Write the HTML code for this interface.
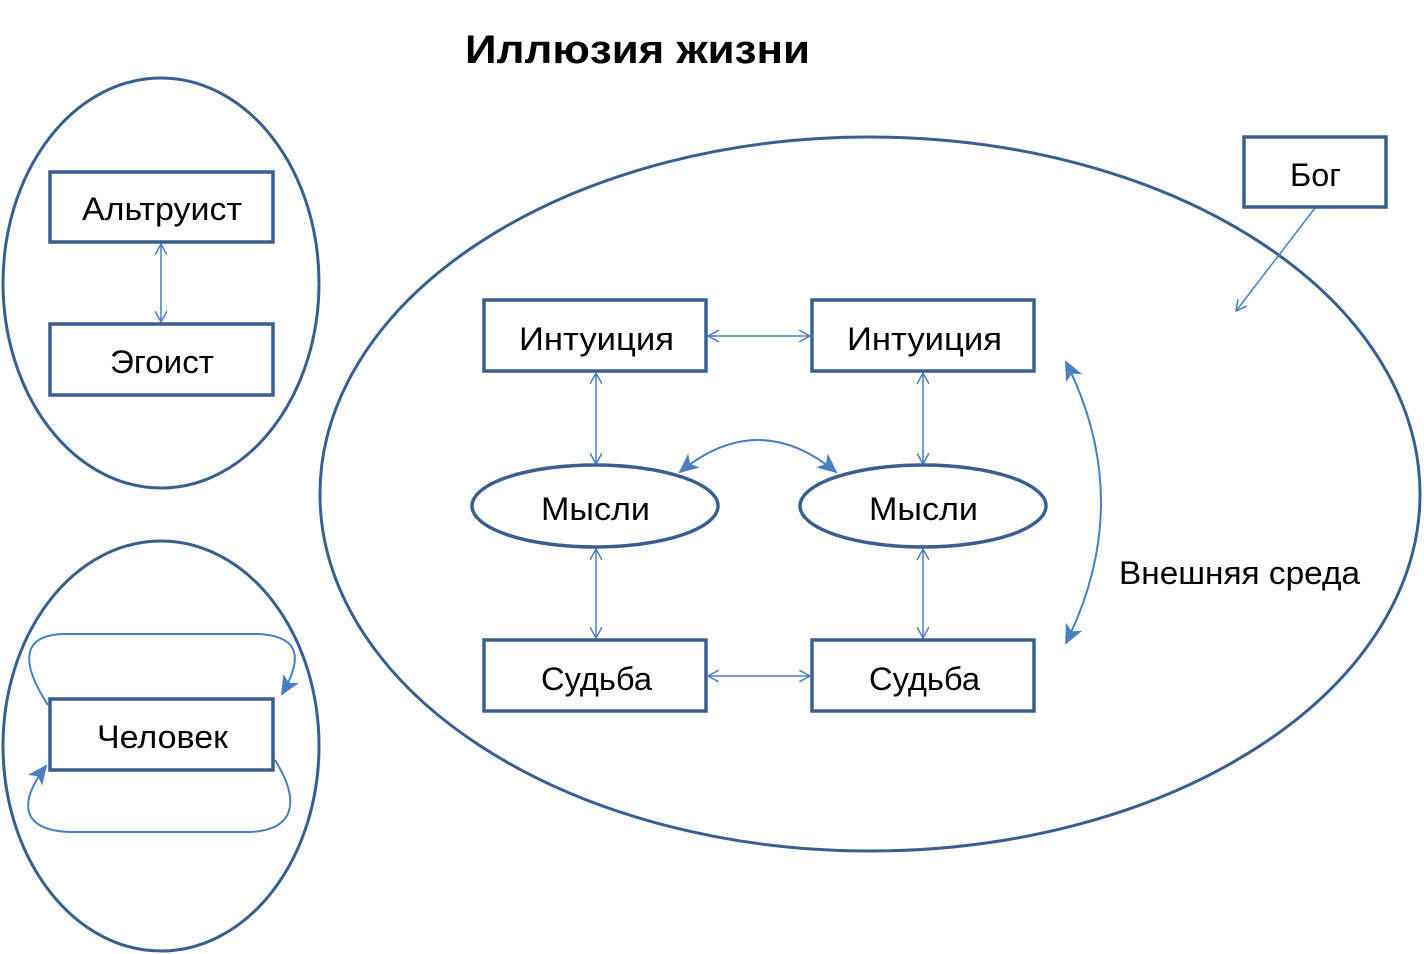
<!DOCTYPE html>
<html><head><meta charset="utf-8"><style>
html,body{margin:0;padding:0;background:#fff;}
svg{display:block;}
text{font-family:"Liberation Sans",sans-serif;fill:#000;}
</style></head><body>
<svg width="1424" height="954" viewBox="0 0 1424 954" xmlns="http://www.w3.org/2000/svg">
<defs>
<marker id="o" viewBox="0 0 12 12" refX="11" refY="6" markerWidth="12" markerHeight="12" markerUnits="userSpaceOnUse" orient="auto-start-reverse">
<path d="M0,0 L11,6 L0,12" fill="none" stroke="#4a7ebf" stroke-width="1.5"/></marker>
<marker id="f" viewBox="0 0 20 20" refX="18" refY="10" markerWidth="20" markerHeight="20" markerUnits="userSpaceOnUse" orient="auto-start-reverse">
<path d="M0,1 L20,10 L0,19 L5,10 Z" fill="#4a7ebf"/></marker>
</defs>
<g fill="none" stroke="#3a5f8f" stroke-width="3">
<ellipse cx="161" cy="283" rx="158" ry="205"/>
<ellipse cx="161" cy="746" rx="158" ry="205"/>
<ellipse cx="870" cy="494" rx="550" ry="357"/>
</g>
<text x="465" y="63" font-size="40" font-weight="bold" textLength="345" lengthAdjust="spacingAndGlyphs">Иллюзия жизни</text>
<g stroke="#4a7ebf" stroke-width="1.5" fill="none">
<line x1="161" y1="244" x2="161" y2="322" marker-start="url(#o)" marker-end="url(#o)"/>
<line x1="708" y1="336" x2="810" y2="336" marker-start="url(#o)" marker-end="url(#o)"/>
<line x1="708" y1="676" x2="810" y2="676" marker-start="url(#o)" marker-end="url(#o)"/>
<line x1="596" y1="373" x2="596" y2="464" marker-start="url(#o)" marker-end="url(#o)"/>
<line x1="923" y1="373" x2="923" y2="464" marker-start="url(#o)" marker-end="url(#o)"/>
<line x1="596" y1="549" x2="596" y2="638" marker-start="url(#o)" marker-end="url(#o)"/>
<line x1="923" y1="549" x2="923" y2="638" marker-start="url(#o)" marker-end="url(#o)"/>
<line x1="1315" y1="208" x2="1236" y2="311" marker-end="url(#o)"/>
<path d="M680,472 Q758,408 836,472" stroke-width="2" marker-start="url(#f)" marker-end="url(#f)"/>
<path d="M1066,362 Q1136,502 1066,643" stroke-width="2" marker-start="url(#f)" marker-end="url(#f)"/>
<path d="M48,705 C20,662 22,636 62,634 L258,634 C302,636 302,660 282,694" stroke-width="2" marker-end="url(#f)"/>
<path d="M275,760 C300,800 296,830 250,832 L70,832 C18,830 20,800 46,766" stroke-width="2" marker-end="url(#f)"/>
</g>
<g fill="#fff" stroke="#3a5f8f" stroke-width="3.5">
<rect x="50" y="172" width="223" height="70"/>
<rect x="50" y="324" width="223" height="71"/>
<rect x="50" y="699" width="223" height="71"/>
<rect x="484" y="300" width="222" height="71"/>
<rect x="812" y="300" width="222" height="71"/>
<rect x="484" y="640" width="222" height="71"/>
<rect x="812" y="640" width="222" height="71"/>
<rect x="1244" y="137" width="142" height="70"/>
<ellipse cx="595" cy="506" rx="123" ry="41"/>
<ellipse cx="923" cy="506" rx="123" ry="41"/>
</g>
<g font-size="32" lengthAdjust="spacingAndGlyphs">
<text x="82" y="220" textLength="160" lengthAdjust="spacingAndGlyphs">Альтруист</text>
<text x="110" y="373" textLength="104" lengthAdjust="spacingAndGlyphs">Эгоист</text>
<text x="97" y="748" textLength="131" lengthAdjust="spacingAndGlyphs">Человек</text>
<text x="519" y="350" textLength="155" lengthAdjust="spacingAndGlyphs">Интуиция</text>
<text x="847" y="350" textLength="155" lengthAdjust="spacingAndGlyphs">Интуиция</text>
<text x="541" y="690" textLength="111" lengthAdjust="spacingAndGlyphs">Судьба</text>
<text x="869" y="690" textLength="111" lengthAdjust="spacingAndGlyphs">Судьба</text>
<text x="1290" y="186" textLength="51" lengthAdjust="spacingAndGlyphs">Бог</text>
<text x="541" y="520" textLength="109" lengthAdjust="spacingAndGlyphs">Мысли</text>
<text x="869" y="520" textLength="109" lengthAdjust="spacingAndGlyphs">Мысли</text>
<text x="1119" y="584" textLength="241" lengthAdjust="spacingAndGlyphs">Внешняя среда</text>
</g>
</svg>
</body></html>
